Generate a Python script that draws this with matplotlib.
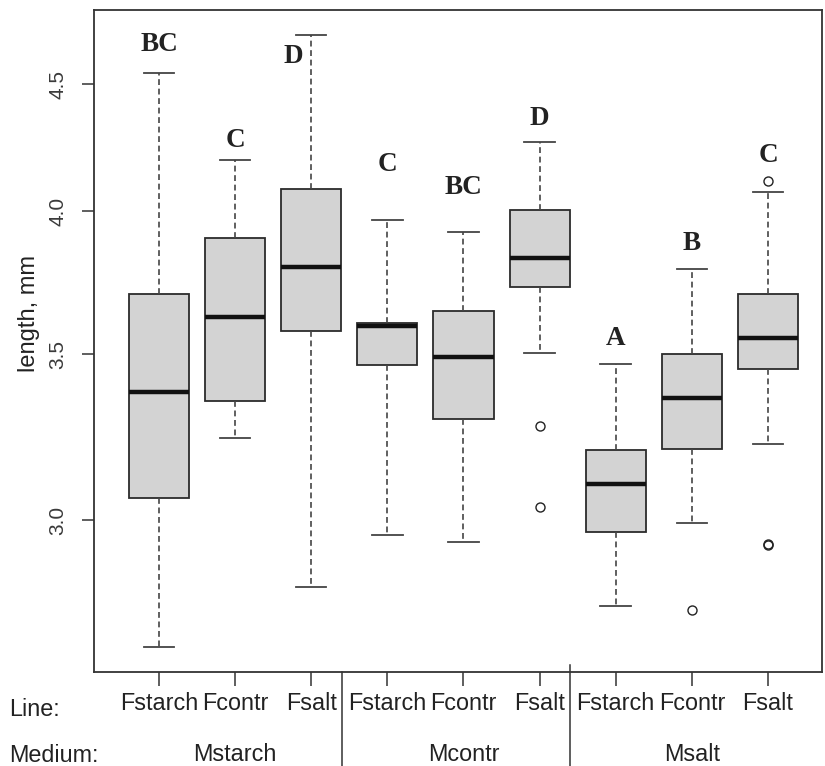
import matplotlib
matplotlib.use("Agg")
import matplotlib.pyplot as plt
from matplotlib.ticker import NullLocator
from matplotlib.transforms import blended_transform_factory

# box statistics (length, mm)
line_names = ["Fstarch", "Fcontr", "Fsalt"] * 3
medium_names = ["Mstarch", "Mcontr", "Msalt"]
whislo = [2.666, 3.238, 2.818, 2.958, 2.939, 3.505, 2.769, 2.992, 3.220]
q1 = [3.062, 3.352, 3.578, 3.467, 3.296, 3.728, 2.967, 3.205, 3.453]
med = [3.381, 3.625, 3.795, 3.595, 3.493, 3.827, 3.102, 3.362, 3.554]
q3 = [3.703, 3.902, 4.081, 3.605, 3.645, 4.005, 3.202, 3.502, 3.703]
whishi = [4.550, 4.193, 4.710, 3.968, 3.924, 4.267, 3.470, 3.788, 4.073]
fliers = [[], [], [], [], [], [3.275, 3.036], [], [2.759], [4.115, 2.934, 2.930]]

# significance letters and where they sit
letters = ["BC", "C", "D", "C", "BC", "D", "A", "B", "C"]
letter_y = [4.669, 4.271, 4.620, 4.177, 4.089, 4.360, 3.551, 3.880, 4.212]
letter_dx = [0, 0, -0.23, 0, 0, 0, 0, 0, 0]

positions = list(range(1, 10))
stats = []
for i in range(9):
    stats.append(dict(whislo=whislo[i], q1=q1[i], med=med[i], q3=q3[i],
                      whishi=whishi[i], fliers=fliers[i]))

fig = plt.figure(figsize=(8.25, 7.66), dpi=100)
ax = fig.add_axes([94 / 825, (766 - 672) / 766, (822 - 94) / 825, (672 - 10) / 766])

edge = "#2b2b2b"
ax.bxp(stats, positions=positions, widths=0.79, capwidths=0.4, patch_artist=True,
       boxprops=dict(facecolor="#d3d3d3", edgecolor=edge, linewidth=1.3),
       medianprops=dict(color="#111111", linewidth=3.2),
       whiskerprops=dict(color="#444444", linewidth=1.2, linestyle=(0, (3.5, 2.2))),
       capprops=dict(color="#444444", linewidth=1.3),
       flierprops=dict(marker="o", markersize=6.5, markerfacecolor="none",
                       markeredgecolor="#222222", markeredgewidth=1.0))

ax.set_yscale("log")
ax.set_ylim(2.604, 4.823)
ax.set_xlim(0.146, 9.71)
ax.set_yticks([3.0, 3.5, 4.0, 4.5])
ax.set_yticklabels(["3.0", "3.5", "4.0", "4.5"], rotation=90, va="center",
                   fontsize=15, color="#3a3a3a", family="Liberation Sans")
ax.yaxis.set_minor_locator(NullLocator())
ax.set_xticks(positions)
ax.set_xticklabels(line_names, fontsize=16.8, color="#222222", family="Liberation Sans")
ax.tick_params(axis="y", length=9, width=1.1, color="#333333", pad=10)
ax.tick_params(axis="x", length=10, width=1.1, color="#333333", pad=4.5)
for sp in ax.spines.values():
    sp.set_color("#333333")
    sp.set_linewidth(1.3)

ax.set_ylabel("length, mm", fontsize=17, family="Liberation Sans", color="#222222")
ax.yaxis.set_label_coords(-54 / 728, 0.542)

for i in range(9):
    ax.text(positions[i] + letter_dx[i], letter_y[i], letters[i], ha="center", va="center",
            fontsize=19.5, fontweight="bold", family="Liberation Serif", color="#222222")

# group separators and the medium labels below the axis
tr = blended_transform_factory(ax.transData, fig.transFigure)
for xs, top in [(3.4, 672), (6.4, 665)]:
    ax.plot([xs, xs], [(766 - top) / 766, 0], transform=tr, clip_on=False,
            color="#333333", linewidth=1.1)
for j, name in enumerate(medium_names):
    ax.text(2 + 3 * j, (766 - 761) / 766, name, transform=tr, ha="center", va="baseline",
            fontsize=16.8, family="Liberation Sans", color="#222222")

fig.text(9 / 825, (766 - 716) / 766, "Line:", ha="left", va="baseline",
         fontsize=16.8, family="Liberation Sans", color="#222222")
fig.text(9 / 825, (766 - 762) / 766, "Medium:", ha="left", va="baseline",
         fontsize=16.8, family="Liberation Sans", color="#222222")

fig.savefig("out.png", dpi=100)
